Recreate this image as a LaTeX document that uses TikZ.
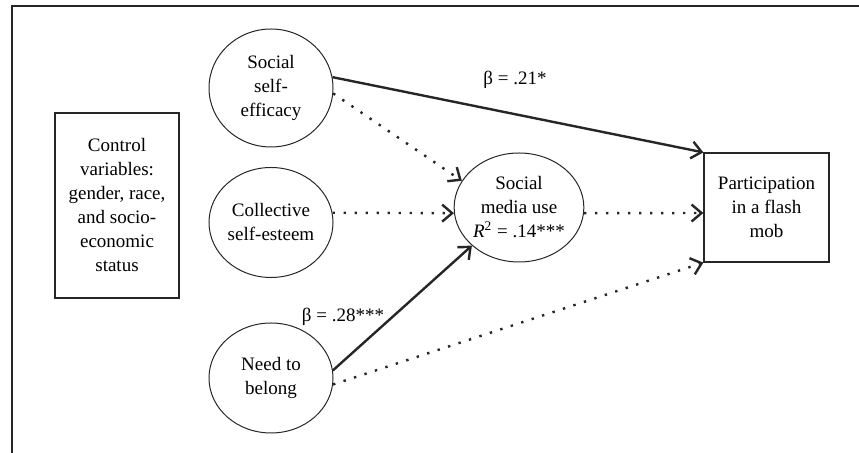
\documentclass[tikz,border=0pt]{standalone}
\usepackage{fontspec}
\setmainfont{Liberation Serif}
\usetikzlibrary{arrows.meta,positioning,shapes.geometric}

\begin{document}
\begin{tikzpicture}[
  x=0.5pt, y=-0.5pt,
  every node/.style={font=\fontsize{9.5}{12}\selectfont},
  latent/.style={ellipse, draw=black!85, line width=0.5pt, align=center,
                 inner sep=0pt, minimum width=62pt, minimum height=56pt},
  obsbox/.style={rectangle, draw=black!85, line width=0.6pt, align=center,
                 inner sep=0pt},
  arr/.style={-{Straight Barb[length=5pt, width=8.5pt, line width=1.2pt]}, line width=1.2pt, black!85},
  dotarr/.style={arr, dash pattern=on 1.2pt off 4.3pt}
]
\useasboundingbox (0,0) rectangle (859,453);
\draw[line width=0.6pt, black!85] (859,6) -- (12,6) -- (12,453);

\node[obsbox, minimum width=62pt, minimum height=92.5pt] (ctrl) at (117,205.5)
  {Control\\variables:\\gender, race,\\and socio-\\economic\\status};
\node[latent, minimum height=59pt] (sse) at (271,88) {Social\\self-\\efficacy};
\node[latent, minimum height=55pt] (cse) at (271,222.5) {Collective\\self-esteem};
\node[latent, minimum height=55pt] (ntb) at (271,378) {Need to\\belong};
\node[latent, minimum width=63pt, minimum height=54.5pt] (smu) at (519,207.5)
  {Social\\media use\\\textit{R}\textsuperscript{2} = .14***};
\node[obsbox, minimum width=62.5pt, minimum height=54.5pt] (part) at (766.5,207.5)
  {Participation\\in a flash\\mob};

\node (b21) at (515,80) {β = .21*};
\node (b28) at (343,317) {β = .28***};

\draw[arr] (sse.10) -- (part.north west);
\draw[dotarr] (sse.-5) -- (smu.155);
\draw[dotarr] (cse.9) -- (smu.185);
\draw[arr] (ntb.7) -- (smu.219);
\draw[dotarr] (ntb.-6) -- (part.south west);
\draw[dotarr] (smu.-5) -- (part.185);
\end{tikzpicture}
\end{document}
